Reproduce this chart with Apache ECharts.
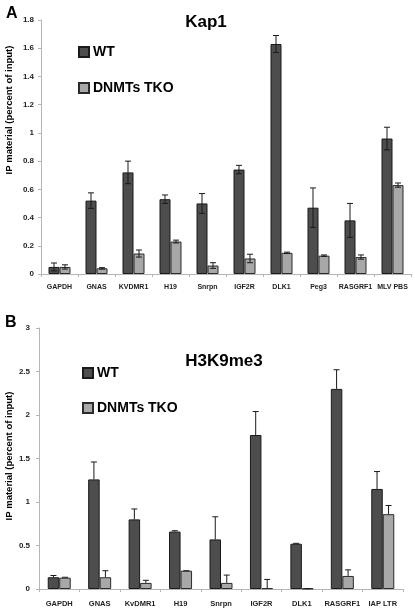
<!DOCTYPE html>
<html>
<head>
<meta charset="utf-8">
<script src="https://cdn.jsdelivr.net/npm/echarts@6/dist/echarts.min.js"></script>
<style>
html,body{margin:0;padding:0;background:#fff;}
#chart{width:415px;height:608px;}
</style>
</head>
<body>
<div id="chart"></div>
<script>
// Panel A: Kap1
var kapCategories = ['GAPDH','GNAS','KVDMR1','H19','Snrpn','IGF2R','DLK1','Peg3','RASGRF1','MLV PBS'];
var kapWT      = [0.05, 0.52, 0.72, 0.53, 0.50, 0.74, 1.63, 0.47, 0.38, 0.96];
var kapWTErr   = [0.028,0.055,0.08, 0.03, 0.07, 0.03, 0.06, 0.14, 0.12, 0.08];
var kapTKO     = [0.05, 0.04, 0.145,0.23, 0.06, 0.11, 0.15, 0.13, 0.12, 0.63];
var kapTKOErr  = [0.015,0.005,0.025,0.01, 0.02, 0.03, 0.005,0.005,0.015,0.015];
// Panel B: H3K9me3
var h3Categories = ['GAPDH','GNAS','KvDMR1','H19','Snrpn','IGF2R','DLK1','RASGRF1','IAP LTR'];
var h3WT      = [0.135,1.26, 0.80, 0.66, 0.57, 1.77, 0.52, 2.30, 1.15];
var h3WTErr   = [0.02, 0.20, 0.12, 0.01, 0.26, 0.27, 0.005,0.22, 0.20];
var h3TKO     = [0.13, 0.135,0.07, 0.21, 0.07, 0.01, 0.005,0.15, 0.86];
var h3TKOErr  = [0.005,0.075,0.03, 0,    0.09, 0.10, 0,    0.07, 0.10];

var FONT = '"Liberation Sans", Arial, sans-serif';
var WT_COLOR = '#4d4d4d', TKO_COLOR = '#a8a8a8';

function errData(vals, errs){
  return vals.map(function(v,i){ return [i, v, errs[i]]; });
}
function errSeries(name, xi, yi, vals, errs, offset, both){
  return {
    type:'custom', name: name + ' err', xAxisIndex: xi, yAxisIndex: yi, z: 5,
    silent: true, legendHoverLink:false,
    encode:{x:0,y:1},
    data: errData(vals, errs),
    renderItem: function(params, api){
      var i = api.value(0), v = api.value(1), e = api.value(2);
      var c = api.coord([i, v]);
      var x = c[0] + offset;
      var hi = api.coord([i, v + e])[1];
      var lo = both ? api.coord([i, v - e])[1] : c[1];
      var cap = 3;
      var st = {stroke:'#1a1a1a', lineWidth:1};
      var ch = [
        {type:'line', shape:{x1:x, y1:hi, x2:x, y2:lo}, style:st},
        {type:'line', shape:{x1:x-cap, y1:hi, x2:x+cap, y2:hi}, style:st}
      ];
      if (both) ch.push({type:'line', shape:{x1:x-cap, y1:lo, x2:x+cap, y2:lo}, style:st});
      return {type:'group', children: ch};
    }
  };
}

var axisLineStyle = {lineStyle:{color:'#b5b5b5', width:1}};
var chart = echarts.init(document.getElementById('chart'), null, {renderer:'canvas'});
var option = {
  animation:false,
  backgroundColor:'#fff',
  title:[
    {text:'A', left:1, top:1, textStyle:{fontFamily:FONT, fontSize:16, fontWeight:'bold', color:'#000'}},
    {text:'Kap1', left:201, top:9, textAlign:'center', textStyle:{fontFamily:FONT, fontSize:17, fontWeight:'bold', color:'#000'}},
    {text:'B', left:0, top:310, textStyle:{fontFamily:FONT, fontSize:16, fontWeight:'bold', color:'#000'}},
    {text:'H3K9me3', left:219, top:348, textAlign:'center', textStyle:{fontFamily:FONT, fontSize:17, fontWeight:'bold', color:'#000'}}
  ],
  legend:[
    {orient:'vertical', left:73, top:40, itemWidth:10, itemHeight:10, itemGap:22,
     data:['WT','DNMTs TKO'], icon:'rect',
     textStyle:{fontFamily:FONT, fontSize:14, fontWeight:'bold', color:'#000', lineHeight:14, padding:[0,0,0,-1]}},
    {orient:'vertical', left:77, top:361, itemWidth:10, itemHeight:10, itemGap:21,
     data:['WT','DNMTs TKO'], icon:'rect',
     textStyle:{fontFamily:FONT, fontSize:14, fontWeight:'bold', color:'#000', lineHeight:14, padding:[0,0,0,-1]}}
  ],
  graphic:[
    {type:'text', x:9, y:110, rotation:Math.PI/2,
     style:{text:'IP material (percent of input)', font:'bold 9.5px ' + FONT, fill:'#000', align:'center', verticalAlign:'middle'}},
    {type:'text', x:9, y:456, rotation:Math.PI/2,
     style:{text:'IP material (percent of input)', font:'bold 9.5px ' + FONT, fill:'#000', align:'center', verticalAlign:'middle'}}
  ],
  grid:[
    {left:41, right:4, top:20, height:254},
    {left:39, right:12, top:328, height:261}
  ],
  xAxis:[
    {type:'category', gridIndex:0, data:kapCategories,
     axisLine:axisLineStyle, axisTick:{show:true, length:3, lineStyle:{color:'#b5b5b5'}},
     axisLabel:{fontFamily:FONT, fontSize:7, fontWeight:'bold', color:'#222', margin:10, interval:0}},
    {type:'category', gridIndex:1, data:h3Categories,
     axisLine:axisLineStyle, axisTick:{show:true, length:3, lineStyle:{color:'#b5b5b5'}},
     axisLabel:{fontFamily:FONT, fontSize:7.5, fontWeight:'bold', color:'#222', margin:11, interval:0}}
  ],
  yAxis:[
    {type:'value', gridIndex:0, min:0, max:1.8, interval:0.2,
     axisLine:{show:true, lineStyle:{color:'#b5b5b5'}}, axisTick:{show:true, length:3, lineStyle:{color:'#b5b5b5'}},
     splitLine:{show:false},
     axisLabel:{fontFamily:FONT, fontSize:8, fontWeight:'bold', color:'#222', margin:7}},
    {type:'value', gridIndex:1, min:0, max:3, interval:0.5,
     axisLine:{show:true, lineStyle:{color:'#b5b5b5'}}, axisTick:{show:true, length:3, lineStyle:{color:'#b5b5b5'}},
     splitLine:{show:false},
     axisLabel:{fontFamily:FONT, fontSize:8, fontWeight:'bold', color:'#222', margin:9}}
  ],
  series:[
    {type:'bar', name:'WT', xAxisIndex:0, yAxisIndex:0, data:kapWT, barWidth:11, barGap:'0%',
     itemStyle:{color:WT_COLOR, borderColor:'#1a1a1a', borderWidth:1}},
    {type:'bar', name:'DNMTs TKO', xAxisIndex:0, yAxisIndex:0, data:kapTKO, barWidth:11, barGap:'0%',
     itemStyle:{color:TKO_COLOR, borderColor:'#2a2a2a', borderWidth:1}},
    errSeries('WT', 0, 0, kapWT, kapWTErr, -5.5, true),
    errSeries('DNMTs TKO', 0, 0, kapTKO, kapTKOErr, 5.5, true),
    {type:'bar', name:'WT', xAxisIndex:1, yAxisIndex:1, data:h3WT, barWidth:11.5, barGap:'0%',
     itemStyle:{color:WT_COLOR, borderColor:'#1a1a1a', borderWidth:1}},
    {type:'bar', name:'DNMTs TKO', xAxisIndex:1, yAxisIndex:1, data:h3TKO, barWidth:11.5, barGap:'0%',
     itemStyle:{color:TKO_COLOR, borderColor:'#2a2a2a', borderWidth:1}},
    errSeries('WT', 1, 1, h3WT, h3WTErr, -5.75, false),
    errSeries('DNMTs TKO', 1, 1, h3TKO, h3TKOErr, 5.75, false)
  ]
};
chart.setOption(option);
</script>
</body>
</html>
